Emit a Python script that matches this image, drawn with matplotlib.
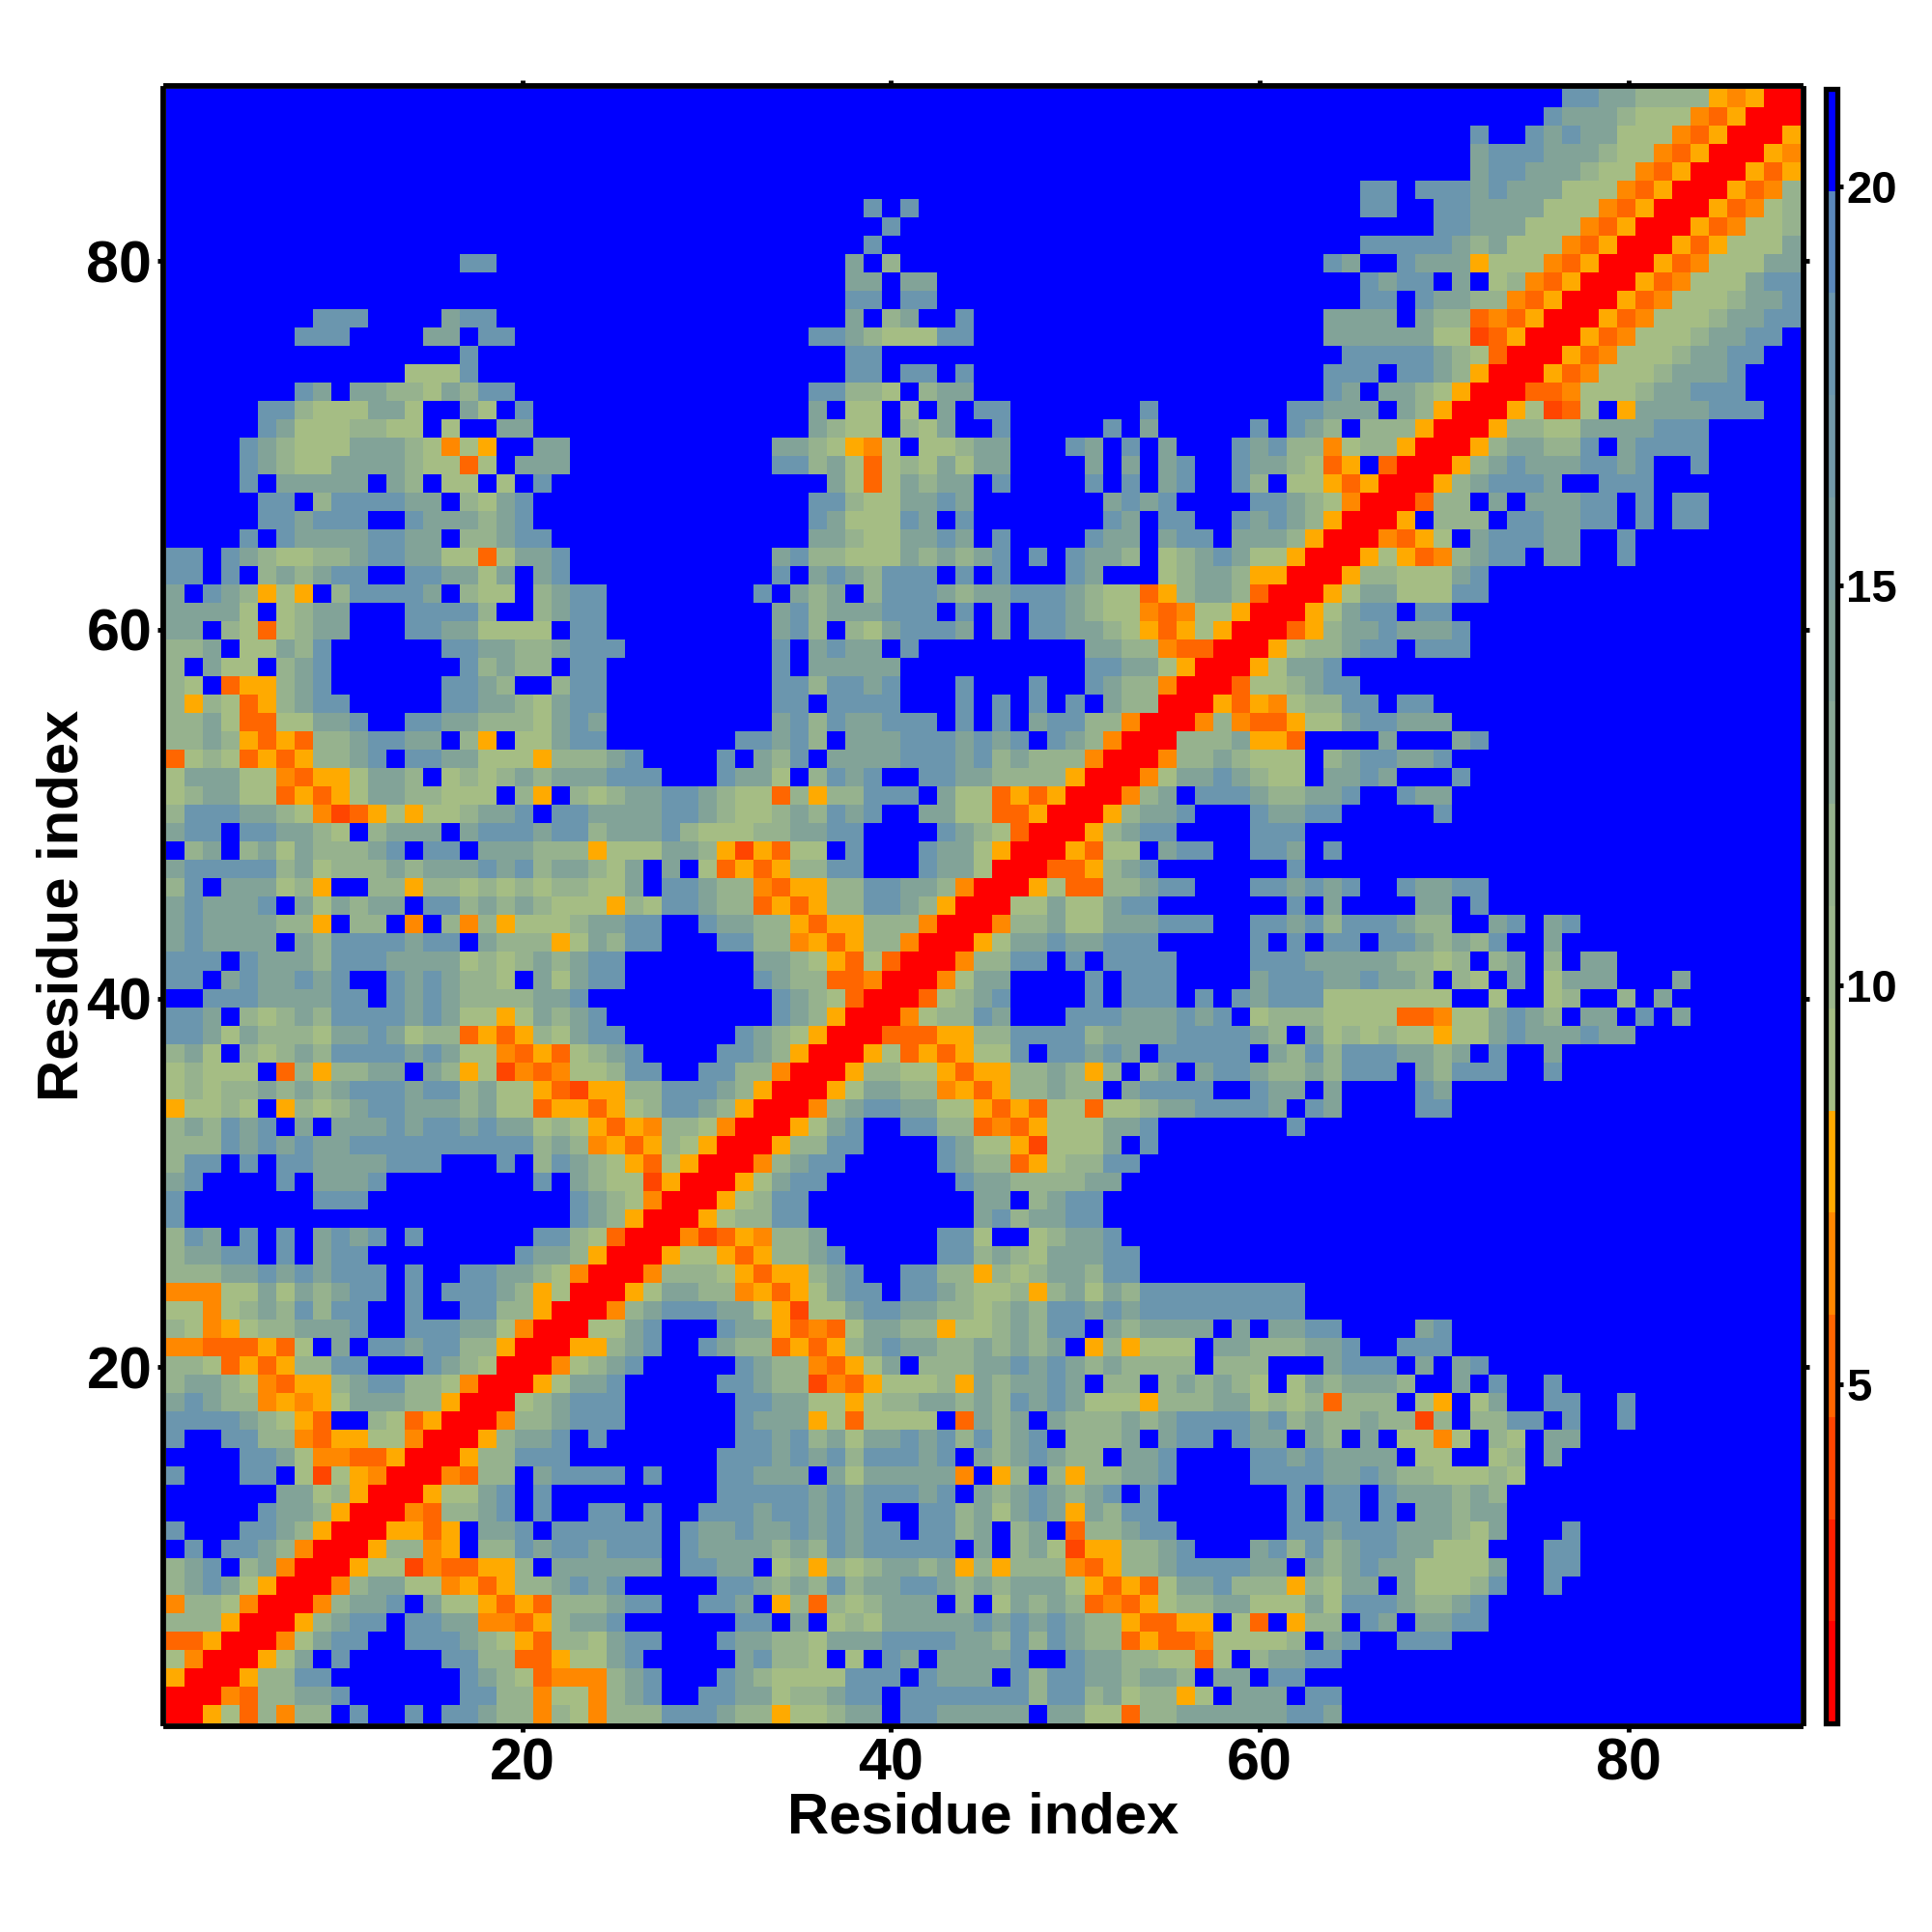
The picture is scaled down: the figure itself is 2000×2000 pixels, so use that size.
import numpy as np
import matplotlib
matplotlib.use("Agg")
import matplotlib.pyplot as plt
from matplotlib.colors import ListedColormap, BoundaryNorm

plt.rcParams["font.family"] = ["Liberation Sans", "DejaVu Sans"]
plt.rcParams["font.weight"] = "bold"

###
### data. one string per row, top row (89) first
### r n o p y = red to orange, g h m s = green to steel, . = blue
###
left_rows = [
    "", "", "", "", "", "", "", "", "",
    "................ss",
    "",
    "",
    "........sss....mss",
    ".......sss....mm.ss",
    "................s",
    ".............gggs",
    ".......sm.mmhhgmhss",
    ".....sshgggmmg..mg.s",
    ".....smggghhgg.g..mm",
    "....smhgggmmmhgpgy..mm",
    "....smhggmmmmhggog.mmm",
    "....s.mmmmm.mh.gg.g.s",
    ".....ss.hssssmm.hgms",
    ".....ssmsss..smmmhms",
    "....s.smmmmssmm.hhmss",
    "ss.smhgghhmssmmggogmms",
    "ss.s.hmhmss..ssmmgm.ms",
    "m.smhygy.hssssm.hgg.hmss",
    "mmmmg.ghmm...ssssh..hmss",
    "mm.hgoghmm...ssmmgggg.ss",
    "hhm.ggmhs......ssmmhhmsss",
    "h.mgg.hms.......shmhh.ss",
    "hg.oyyhms......ssmh..hss",
    "hyhgoyhmss.....ssmmhgmss",
    "hhmgooggmms..ssmmhhhgmsm",
    "hhmhyoyohhmssmm.hy.ggmss",
    "oghgoyoyhhms.ssmmgggyhhhms",
    "gmmmggpoyygmmh.ghghmhmmmsss",
    "ghmmggoyoygmmhhggg.hy.hghmmssm",
    "hsssmmhgpnoygygghmms.ssmmmmssm",
    "mss.ssmmhg.hmmm.msssmsshmmmshg",
    ".hm.hmgmhhhms.ss.mmmhhhygggmmh",
    "mssssshmghhhmhmmmsmshmmhgm.m.g",
    "hs.mmmghy..hhyhhghghghhggm.ssm",
    "msmmms.mgmhmm.sshmhmhgggyhgssm",
    "msmmmmhhy.hh.p.hphyggghmmss..s",
    "msmmmm.mhssssmss.mhhhygmhss...",
    "sss.smmmhsssmmmmghghmhmss",
    "ss.msmmsms..smsmhhg.mgmss",
    "..sssmmmmss.smsmhhhhmms",
    "ssm.hghmhssssmsmggygmhms",
    "ssmgmhhhgmmsmghhoyoyhgmss",
    "hmg.hghmhssssmsmggpoyoghms",
    "ghggg.ohyhhmm.mhygnpopgghss..s",
    "ghghhmhmhmsssmsshmggyonyyhhsss",
    "ygghg.yhghmssmmmhmggoyyoyghssm",
    "hmhsms.m.mmmsmssmsmmghgyoyphhg",
    "hhhsmsmsmmssssssssss" + "hmhpyoyhgy",
    "hss.s.ssmmmmsss...s.hsmhgyogyr",
    "ms....s.mmms........s.mhggnyrr",
    "s.......sss...........smhgprrr",
    "s.....................smhyrrry",
    "hsm.s.s.msms.s......sshgorrrpn",
    "hmmss.s.mss........smmhyrrrygg",
    "hhhmmsmsmsss.s..ssmmhgprrrphhh",
    "pppggmgmhmss.s.sssmhygrrrygmmh",
    "ggpghmhshss..s..sshhyrrrphmsss",
    "hgpyghhmmms..sssmmgprrrggms...",
    "ppoooyog.m.ssmsshhyrrryyhms..s",
    "hhgoyoyhhss...smhgrrrpghms",
    "hmmhgpoyyhmsshhgprrrygmms",
    "msmhhpypygmmmhhyrrrghmsss",
    "ssssmhgyo..hgoyrrrphhmsss",
    "s..sshhpoyyggprrryhmms.s",
    "....ssmgppooyrrryhhsss",
    "s...ss.gngyprrrpohh.mssss.s",
    "......mmghyrrryggms.s",
    ".....smmhyrrrpohhms.s..ss.s..s",
    "s...ssmhyrrryyoy.mms.ssssss.sm",
    ".s.ssmhprrryhhpy.hhsmssmsss.sm",
    "hms.hmprrryggnpooyyh.mmmmmm.ss",
    "hmsmgyrrrphmmggpyoyhhmsms",
    "phhgprrrphmms.mggyoyohhhmss..s",
    "hhhyrrryhmss.ssmmppoyhmms",
    "ooyrrrpgmss..sssmhgyohhgmss",
    "gprrrygm.s.....sshhooyggms",
    "yrrryhhss.......smhgoppphms",
    "rrrpohhmms......sshhpggphms..s",
    "rrygohphh.s..s.ssmhhphgphhhsss",
]

mid_rows = [
    "", "", "", "", "", "",
    "........s.s",
    ".........s",
    "........s",
    ".......m.h",
    ".......mm.mm",
    ".......ss.ss",
    ".......m.hm..s",
    ".....ssmhgggss",
    ".......ss",
    ".......ss.ss.s",
    ".....sshhg.hmm",
    ".....m.gg.g.m.ss.......s",
    ".....mhgg.hgm..s.....s.m.....s",
    "...mmhgypg.gghmm...sm.s.m...sm",
    "...sshmgoghgmgmm....m.m.ms..sm",
    "......mgogmhmm.s....s.s.ms..sh",
    ".....sshggmmsm.......msms....s",
    ".....smgggsm.s.......sm.ss..sm",
    ".....mmhggmmsm.s....smm.mss.mm",
    "...mshhgggmhmhms.s.smmh.ghmsmg",
    "...s.msmhsss.s.s...sm...ghmmhy",
    "..s.mhm.hsssmhmmsssmhggoyhmmho",
    "...mshmmmsss.s.m.ssmhggpopggyr",
    "...msh.hgmsssm.m.ssmmhgyoygyrr",
    "...s.msmm.s.........mmhhpoorrr",
    "...s.mmmmm..........ssmmgyrrry",
    "...sshssms...s...s..smhhprrrog",
    "...ss.ssss...s.s.s.s.mhhrrryoy",
    "...mshsmmsss.s.s.msshhprrrphpo",
    ".ssmsh.mmmsssmsms.smhprrrhhhmy",
    "s.mhs.mmmmsssmshmhhhprrrphhmhg",
    "smmg.hsms..ssmmhhhhyrrrpgmmsmh",
    "hggohyhhsss.mggoyoyrrrphm.sssm",
    "hgghmhsms..mmggooyrrryhmms...s",
    "gghhmmss....smhgorrryhmss....s",
    "ynyogg.s...smmgyrrryogg.mss..s",
    "oyoyhhss...smmgrrrooyhms",
    "hhpoyyhhssmmhprrrygoohhmss...s",
    "hhoyoyhhssmhyrrrggmggmss",
    "mmhhyoyyhhhprrrphhmggmmmsss..s",
    "sshhpyoyhhprrrygmmsmmsss.....s",
    "..mmhgyogorrrphhss.s.ssss....s",
    "..smhhooprrrpgmm....s.sss....m",
    "...smhgorrroghms....s.sss.s.sm",
    "...smhyrrrpghhsm...sssmmmsms.g",
    ".smhgyrrroooyyhhsssshmmmmssssm",
    "ssmhyrrrygoyoyggs.ssmsm.sssss.",
    "shhprrryhhggyoyyhhmhyh.hm.mssm",
    "mhyrrrygmmhhpyoyhhmhh.mssss..s",
    "hyrrrphmssmmggyoyoggogghmmssss",
    "prrrygms..sshhopoygggmms",
    "rrryhhss....smggyngggm.s",
    "rrphmss.....smhhoyghhss",
    "rygmss.......smmhhhhmm",
    "yghss.........mm.hmss",
    "ghhss.........mshmmss",
    "oyphhm......ssg..ghmms",
    "yoyhhms.....sshmhgmmmss",
    "gyoyyhms..sshhyhghmmhss",
    "hpyoygmss.ssmhgghyhmgmhsssssss",
    "mmgynggmssmmhhghmhssmsmsssssss",
    "smmyopogmmhhygghmhss.mhmmmm.m.",
    "mhhoyoyhmsmmhhmhmhm.yhyggg.mmh",
    ".smhhpoygm.hhhmmsmsmhmhhhh.hhh",
    "ssmhhnpoyggghymhmmsm.hh.hmhmhg",
    ".ssmmggyghhmmhmhsmsmgggyhhhmmg",
    ".smmmygogggg.omhm.mhhhmhmssssm",
    ".ssmshmgmmsmshshms.hhhm.mss.sm",
    "sssmsmshsssms.mhmsmhh.mms....s",
    "ssmmm.mgmmmmmp.yh.hyhhmms....s",
    "sssssmsmsssms.mhmsmhms.s",
    "ssmssmsms..sshmgmsmymhss",
    "msmmsmsmss.sshm.hm.ohhmss",
    "mmmhmhsmsssss.m.hmgnyyhhms...m",
    "mm.ghyhghmmhmyhyhhhpoyhhmssssm",
    "ssmhmhshmmssmhmhmmmgyoyogmmshh",
    "sm.yhohghmmm.h.gmhmhopoyghhmmg",
    ".ss.m.ghgmmmmmsmsmsmhhyooyy.go",
    "smmhhgmmmssssmmhshsmhhoyoopggg",
    ".mshhg.g.sm.mmmms..smmhhggog.h",
    "smhggggsss.smmm.shssmmhmmh.mm.",
    "smmghhmss.ssssssshsshmghhyg.mm",
    "mhhygghmm.ssmmmmm.mmggohhmmmmm",
]

right_rows = [
    "................ssmmhhhhypyrr",
    "...............smmmhgggpoyrrr",
    "...........s..smsmmgggpoyrrry",
    "...........msssmmmhggpoyrrryp",
    "...........mssmmmhggpoyrrryoy",
    ".....ss.sssmsmmmgggpoyrrryoph",
    ".....ss..ssmmmmgggpoyrrryopgh",
    ".........ssmmmgggpoyrrryopggh",
    ".....sssssmhmgggpoyrrryoygggm",
    "...sm..smmmygggpoyrrryopgggmm",
    ".....smss.m.ghpoyrrryopgggmss",
    ".....ss.smmhhpoyrrryopggghmms",
    "...mmmm.mhhopoyrrryopggghmmss",
    "...mmmmmmggnoyrrryopggghmmss.",
    "....sssssmhgorrryopggghmmss",
    "...sss.ssmhyrrryopggghmmms",
    "...sm.mmhgyrrroopggghmmsss",
    ".ssmmm.mhyrrrygnog.ymmmmsss",
    ".smh.hhhyrrryhhggmmmmsss",
    "shhpghhyrrryhmmhhs.mssss",
    "mhgoy.orrryhmsmmmssms..s",
    ".ggyoyrrryhmsssm..sss",
    "smhgprrrohh.m.mmmss.s.ss",
    "smhyrrry.hhh.ssmmss.s.ss",
    "mhyrrrpoyg.msssmm..s",
    "gyrrrygyophmss.mm..s",
    "yrrryhhgggms",
    "rrrygmmgggss",
    "rrygmss.ss",
    "royhmmsmmms",
    "yghhmss.sss",
    "gmms",
    "ghmss",
    "pghhss.ss",
    "oyggmssmmm",
    "yo....m...ms",
    "gg.hmssmms",
    "gg.mmsm...s",
    "hhmms..smm",
    "mmss.....s",
    "ss",
    "sm.s",
    ".s",
    "smsms..smmss",
    ".s.m....mm.s",
    "smshsssmhh..ms.ms",
    ".s.ss.ssmhmhs..m",
    "ssmmmmmhhgh.hm.h.mm",
    "sssmmsmmh.hg.m.gmmm...m",
    "sssggggggg..g..gh..h.m",
    "hhhggggoopggmsmh.mm.s.m",
    "h.mghghggyggmsmmmsmm",
    "mhshsssmmhm.s..m",
    "hhmhsss.mhsss..s",
    "mm.m....sm",
    "m.sm....ss",
    ".s",
    "", "", "", "", "", "", "", "",
    "ss",
    "ss",
    "mmss....ms",
    "hhmms..sss",
    "...msss.m.ms",
    ".gmhmmmh..m.s..s",
    "hghohhh.gy.gm..ss..s",
    "shmhhmhhnh.hhss.s..s",
    "m.mh.m.ggpg.hg.mm",
    "smsmmmm.gg..gh.m",
    "sssmmsmhhggghg",
    ".s.ss.smmmhmh",
    ".s.ss.s.mmhmm",
    ".ssmsssmmmhgm...s",
    "shshmssmmggg...ss",
    "m.mhmsmmggggm..ss",
    "hyhgmm.mggghs..s",
    "ggmgsssmhhms",
    ".yhh.sm.mmss",
    "gh.ms..sss",
    "mmss",
    "ss",
    "m.ss",
    "mssm",
]

# distance value standing behind each letter
letter_values = {"r": 1.4, "n": 4.0, "o": 5.3, "p": 6.6, "y": 7.8,
                 "g": 9.1, "h": 11.7, "m": 14.2, "s": 18.1, ".": 20.6}

tick_values = [20, 40, 60, 80]
cbar_ticks = [5, 10, 15, 20]
cbar_edges = [0.756 + 1.279 * k for k in range(17)]
level_colors = ["#ff0000", "#ff2000", "#ff4500", "#ff6600", "#ff8800", "#ffaa00",
                "#a5bd84", "#9cb68c", "#96b28e", "#8aa996", "#82a398", "#7a9ea0",
                "#7299a8", "#6b96ae", "#5a88bb", "#0000ff"]

matrix = []
for a, b, c in zip(left_rows, mid_rows, right_rows):
    row = a.ljust(30, ".")[:30] + b.ljust(30, ".")[:30] + c.ljust(29, ".")[:29]
    matrix.append([letter_values[ch] for ch in row])
matrix = np.array(matrix)

cmap = ListedColormap(level_colors)
norm = BoundaryNorm(cbar_edges, cmap.N)

S = 2000.0
fig = plt.figure(figsize=(20, 20), dpi=100)
ax = fig.add_axes([172 / S, 1 - 1784 / S, (1864 - 172) / S, (1784 - 92) / S])
# ticks in the original do not sit quite on the cell centres, hence these limits
lim = (0.67, 89.34)
im = ax.imshow(matrix, cmap=cmap, norm=norm, origin="upper", aspect="auto",
               interpolation="nearest", extent=(lim[0], lim[1], lim[0], lim[1]))
ax.set_xlim(lim)
ax.set_ylim(lim)

ax.set_xticks(tick_values)
ax.set_yticks(tick_values)
ax.tick_params(axis="both", which="major", direction="out", length=4.5, width=3.5,
               top=True, right=True, labelsize=44, pad=4)
for sp in ax.spines.values():
    sp.set_linewidth(4.2)
    sp.set_position(("outward", 2.1))

cax = fig.add_axes([1889.5 / S, 1 - 1784 / S, 12.5 / S, (1784 - 92) / S])
cb = fig.colorbar(im, cax=cax, ticks=cbar_ticks, spacing="proportional")
cb.outline.set_linewidth(3.8)
cb.ax.tick_params(direction="out", length=4.5, width=3.5, labelsize=34, pad=2)
cb.minorticks_off()

fig.text(1018 / S, 1 - 1882 / S, "Residue index", fontsize=43, fontweight="bold",
         ha="center", va="center")
fig.text(65 / S, 1 - 937 / S, "Residue index", fontsize=43, fontweight="bold",
         ha="center", va="center", rotation=90)

fig.savefig("out.png", dpi=100)
